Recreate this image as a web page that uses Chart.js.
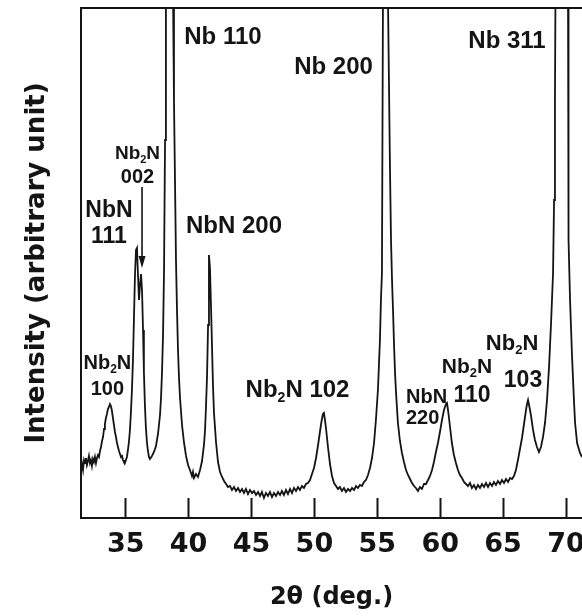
<!DOCTYPE html>
<html>
<head>
<meta charset="utf-8">
<title>XRD pattern</title>
<script src="https://cdn.jsdelivr.net/npm/chart.js@4.4.1/dist/chart.umd.min.js"></script>
<style>
  html, body { margin: 0; padding: 0; background: #fff; overflow: hidden; }
</style>
</head>
<body>
<canvas id="xrd" width="582" height="616"></canvas>
<script>
// scan: 2theta (deg) and intensity (arbitrary unit), the Nb peaks run off the top
const twoTheta = [
  31.45, 31.53, 31.61, 31.69, 31.77, 31.84, 31.92, 32.00, 32.08, 32.16,
  32.24, 32.32, 32.40, 32.48, 32.56, 32.64, 32.72, 32.80, 32.88, 32.96,
  33.04, 33.12, 33.20, 33.28, 33.35, 33.43, 33.51, 33.59, 33.67, 33.75,
  33.83, 33.91, 33.99, 34.07, 34.15, 34.23, 34.31, 34.39, 34.47, 34.55,
  34.63, 34.71, 34.79, 34.86, 34.94, 35.02, 35.10, 35.18, 35.26, 35.34,
  35.42, 35.50, 35.58, 35.66, 35.74, 35.82, 35.90, 35.98, 36.06, 36.14,
  36.22, 36.30, 36.38, 36.45, 36.53, 36.61, 36.69, 36.77, 36.85, 36.93,
  37.09, 37.25, 37.41, 37.57, 37.73, 37.81, 37.89, 37.97, 38.05, 38.13,
  38.20, 38.48, 38.77, 38.84, 38.92, 39.00, 39.08, 39.16, 39.24, 39.32,
  39.48, 39.64, 39.80, 39.96, 40.11, 40.27, 40.35, 40.43, 40.59, 40.75,
  40.91, 41.07, 41.23, 41.31, 41.39, 41.47, 41.55, 41.62, 41.70, 41.78,
  41.86, 41.94, 42.02, 42.18, 42.34, 42.50, 42.66, 42.82, 42.98, 43.13,
  43.29, 43.45, 43.61, 43.77, 43.93, 44.09, 44.25, 44.40, 44.56, 44.72,
  44.88, 45.04, 45.20, 45.36, 45.52, 45.68, 45.83, 45.99, 46.15, 46.31,
  46.47, 46.63, 46.79, 46.95, 47.11, 47.27, 47.42, 47.58, 47.74, 47.90,
  48.06, 48.22, 48.38, 48.54, 48.70, 48.85, 49.01, 49.17, 49.33, 49.49,
  49.65, 49.81, 49.97, 50.13, 50.28, 50.44, 50.52, 50.60, 50.68, 50.76,
  50.84, 50.92, 51.08, 51.24, 51.40, 51.56, 51.72, 51.87, 52.03, 52.19,
  52.35, 52.51, 52.67, 52.83, 52.99, 53.15, 53.31, 53.46, 53.62, 53.78,
  53.94, 54.10, 54.26, 54.42, 54.58, 54.74, 54.89, 55.05, 55.21, 55.29,
  55.37, 55.45, 55.65, 55.85, 56.01, 56.09, 56.17, 56.25, 56.33, 56.41,
  56.49, 56.64, 56.80, 56.96, 57.12, 57.28, 57.44, 57.60, 57.76, 57.92,
  58.07, 58.23, 58.39, 58.55, 58.71, 58.87, 59.03, 59.19, 59.35, 59.50,
  59.66, 59.82, 59.98, 60.14, 60.30, 60.46, 60.54, 60.62, 60.70, 60.78,
  60.93, 61.09, 61.25, 61.41, 61.57, 61.73, 61.89, 62.05, 62.21, 62.37,
  62.52, 62.68, 62.84, 63.00, 63.16, 63.32, 63.48, 63.64, 63.80, 63.96,
  64.12, 64.27, 64.43, 64.59, 64.75, 64.91, 65.07, 65.23, 65.39, 65.55,
  65.71, 65.86, 66.02, 66.18, 66.34, 66.50, 66.66, 66.82, 66.90, 66.98,
  67.06, 67.14, 67.22, 67.38, 67.53, 67.69, 67.85, 68.01, 68.17, 68.33,
  68.49, 68.65, 68.81, 68.97, 69.05, 69.12, 69.16, 69.64, 70.16, 70.20,
  70.32, 70.48, 70.64, 70.72, 70.88, 71.11, 71.27
];
const intensity = [
  60, 54, 48, 58, 55, 60, 53, 57, 62, 55,
  58, 52, 59, 56, 61, 55, 60, 63, 61, 67,
  71, 77, 81, 89, 94, 100, 104, 109, 111, 114,
  112, 107, 100, 93, 86, 81, 75, 71, 67, 64,
  61, 62, 58, 56, 55, 58, 61, 68, 76, 88,
  106, 128, 158, 200, 243, 268, 270, 243, 218, 233,
  244, 228, 188, 146, 113, 90, 76, 67, 61, 59,
  62, 66, 72, 84, 103, 120, 146, 183, 248, 378,
  518, 6000, 518, 418, 338, 258, 208, 168, 140, 120,
  93, 75, 62, 53, 48, 42, 46, 40, 44, 41,
  48, 57, 74, 88, 113, 143, 193, 263, 250, 213,
  173, 133, 105, 76, 56, 46, 41, 37, 34, 31,
  32, 28, 31, 27, 30, 26, 29, 25, 29, 24,
  28, 25, 27, 23, 26, 22, 26, 20, 25, 22,
  26, 21, 25, 22, 26, 23, 27, 23, 28, 24,
  29, 25, 30, 27, 31, 28, 32, 30, 34, 35,
  38, 44, 50, 60, 72, 86, 93, 99, 104, 105,
  98, 90, 71, 54, 42, 35, 32, 29, 31, 27,
  30, 26, 29, 27, 30, 28, 32, 30, 33, 32,
  36, 38, 43, 50, 60, 75, 98, 128, 178, 218,
  245, 518, 6000, 518, 348, 278, 238, 208, 173, 145,
  125, 95, 77, 65, 56, 48, 43, 39, 35, 32,
  30, 27, 31, 29, 34, 34, 38, 42, 48, 56,
  66, 75, 86, 98, 108, 114, 115, 108, 100, 91,
  75, 63, 55, 48, 43, 40, 36, 34, 32, 35,
  30, 33, 29, 33, 30, 34, 31, 35, 31, 35,
  32, 36, 33, 37, 34, 38, 35, 39, 36, 40,
  39, 42, 48, 58, 69, 80, 94, 108, 114, 118,
  113, 108, 102, 88, 78, 71, 66, 71, 81, 95,
  118, 151, 195, 245, 318, 418, 518, 6000, 518, 278,
  218, 161, 115, 95, 75, 65, 61
];

const xTicks = [35, 40, 45, 50, 55, 60, 65, 70];
const xRange = [31.45, 71.27];
const yRange = [0, 510];

// peak assignments, anchored in data units (x = 2theta, y = text baseline)
// "_2" marks a subscript
const peakLabels = [
  { x: 42.73, y: 474, text: 'Nb 110', size: 24 },
  { x: 51.52, y: 444, text: 'Nb 200', size: 24 },
  { x: 65.31, y: 470, text: 'Nb 311', size: 24 },
  { x: 43.61, y: 285, text: 'NbN 200', size: 24 },
  { x: 48.66, y: 121, text: 'Nb_2N 102', size: 24 },
  { x: 33.67, y: 301, text: 'NbN', size: 23 },
  { x: 33.67, y: 275, text: '111', size: 23 },
  { x: 35.94, y: 359, text: 'Nb_2N', size: 19 },
  { x: 35.94, y: 335, text: '002', size: 20 },
  { x: 33.55, y: 149, text: 'Nb_2N', size: 20 },
  { x: 33.55, y: 123, text: '100', size: 20 },
  { x: 57.28, y: 115, text: 'NbN', size: 20, align: 'left' },
  { x: 57.28, y: 94, text: '220', size: 20, align: 'left' },
  { x: 62.13, y: 145, text: 'Nb_2N', size: 21 },
  { x: 62.53, y: 116, text: '110', size: 23 },
  { x: 65.71, y: 168, text: 'Nb_2N', size: 22 },
  { x: 66.58, y: 131, text: '103', size: 23 }
];
// arrow for the Nb2N 002 shoulder: [2theta, from, to]
const shoulderArrow = [36.30, 331, 250];

const INK = '#141414';
const LABEL_FONT = '"Liberation Sans", Arial, sans-serif';
const AXIS_FONT = '"DejaVu Sans", sans-serif';

function drawLabel(ctx, lab, xs, ys) {
  const parts = lab.text.split(/_(\d)/);
  const main = `bold ${lab.size}px ${LABEL_FONT}`;
  const sub = `bold ${Math.round(lab.size * 0.6)}px ${LABEL_FONT}`;
  let w = 0;
  parts.forEach((p, i) => { ctx.font = i % 2 ? sub : main; w += ctx.measureText(p).width; });
  let x = xs.getPixelForValue(lab.x);
  if (lab.align !== 'left') x -= w / 2;
  const y = ys.getPixelForValue(lab.y);
  parts.forEach((p, i) => {
    ctx.font = i % 2 ? sub : main;
    ctx.fillText(p, x, i % 2 ? y + lab.size * 0.2 : y);
    x += ctx.measureText(p).width;
  });
}

const annotations = {
  id: 'annotations',
  afterDatasetsDraw(chart) {
    const { ctx, scales } = chart;
    const xs = scales.x, ys = scales.y;
    ctx.save();
    ctx.fillStyle = INK;
    ctx.textAlign = 'left';
    ctx.textBaseline = 'alphabetic';
    peakLabels.forEach(lab => drawLabel(ctx, lab, xs, ys));

    const ax = xs.getPixelForValue(shoulderArrow[0]);
    const a0 = ys.getPixelForValue(shoulderArrow[1]);
    const a1 = ys.getPixelForValue(shoulderArrow[2]);
    ctx.strokeStyle = INK;
    ctx.lineWidth = 1.6;
    ctx.beginPath();
    ctx.moveTo(ax, a0);
    ctx.lineTo(ax, a1 - 10);
    ctx.stroke();
    ctx.beginPath();
    ctx.moveTo(ax - 3.5, a1 - 12);
    ctx.lineTo(ax + 3.5, a1 - 12);
    ctx.lineTo(ax, a1);
    ctx.closePath();
    ctx.fill();
    ctx.restore();
  }
};

// keep the plot box at fixed edges: no room taken for overhanging tick labels
function fixBox(size) {
  return s => {
    if (s.isHorizontal()) s.height = size; else s.width = size;
    s.paddingLeft = 0;
    s.paddingRight = 0;
    s.paddingTop = 0;
    s.paddingBottom = 0;
  };
}

new Chart(document.getElementById('xrd'), {
  type: 'line',
  data: {
    datasets: [{
      data: twoTheta.map((t, i) => ({ x: t, y: intensity[i] })),
      borderColor: INK,
      borderWidth: 1.8,
      pointRadius: 0,
      tension: 0,
      fill: false
    }]
  },
  options: {
    responsive: false,
    animation: false,
    devicePixelRatio: 1,
    layout: { padding: { top: 8, right: 0, bottom: 0, left: 0 } },
    plugins: { legend: { display: false }, tooltip: { enabled: false } },
    scales: {
      x: {
        type: 'linear',
        position: 'bottom',
        min: xRange[0],
        max: xRange[1],
        afterBuildTicks: s => { s.ticks = xTicks.map(v => ({ value: v })); },
        afterFit: fixBox(98),
        ticks: {
          color: INK,
          padding: 31,
          font: { family: AXIS_FONT, size: 27, weight: 'bold' },
          callback: v => String(v)
        },
        grid: { drawOnChartArea: false, drawTicks: true, tickLength: -20, tickWidth: 2, tickColor: INK },
        border: { display: true, color: INK, width: 2 },
        title: {
          display: true,
          text: '2θ (deg.)',
          color: INK,
          padding: { top: 0, bottom: 4 },
          font: { family: AXIS_FONT, size: 24, weight: 'bold' }
        }
      },
      top: {
        type: 'linear',
        position: 'top',
        min: xRange[0],
        max: xRange[1],
        afterFit: fixBox(0),
        ticks: { display: false },
        grid: { display: false, drawTicks: false },
        border: { display: true, color: INK, width: 2 }
      },
      y: {
        type: 'linear',
        position: 'left',
        min: yRange[0],
        max: yRange[1],
        afterFit: fixBox(81),
        ticks: { display: false },
        grid: { display: false, drawTicks: false },
        border: { display: true, color: INK, width: 2 },
        title: {
          display: true,
          text: 'Intensity (arbitrary unit)',
          color: INK,
          padding: { top: 22, bottom: 0 },
          font: { family: AXIS_FONT, size: 26, weight: 'bold' }
        }
      }
    }
  },
  plugins: [annotations]
});
</script>
</body>
</html>
